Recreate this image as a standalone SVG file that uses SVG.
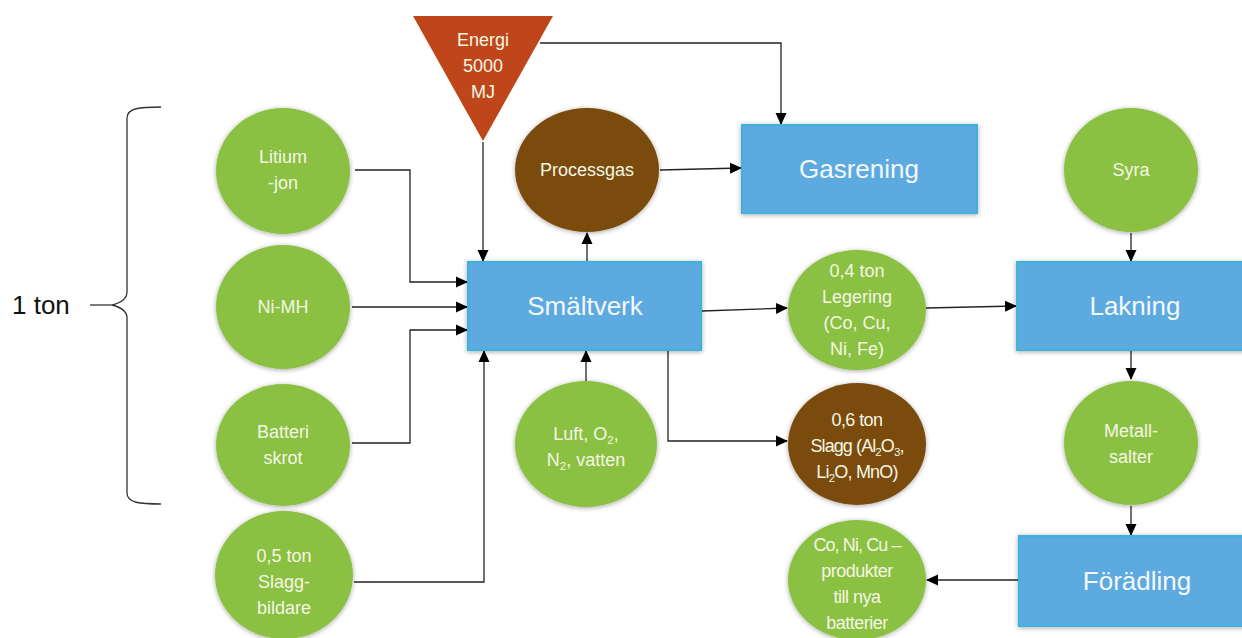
<svg xmlns="http://www.w3.org/2000/svg" width="1242" height="638" viewBox="0 0 1242 638">
<defs>
<filter id="sh" x="-20%" y="-20%" width="140%" height="140%">
<feGaussianBlur in="SourceAlpha" stdDeviation="2.5"/>
<feOffset dx="0" dy="1" result="b"/>
<feComponentTransfer><feFuncA type="linear" slope="0.35"/></feComponentTransfer>
<feMerge><feMergeNode/><feMergeNode in="SourceGraphic"/></feMerge>
</filter>
<marker id="ar" markerWidth="12" markerHeight="12" refX="11" refY="6" orient="auto" markerUnits="userSpaceOnUse">
<path d="M0,0.5 L12,6 L0,11.5 Z" fill="#000"/>
</marker>
</defs>
<style>
.g{fill:#8BC143;filter:url(#sh)}
.b{fill:#7A4B0A;filter:url(#sh)}
.box{fill:#5DAAE0;stroke:#3DB2DA;stroke-width:2;filter:url(#sh)}
.ct{font-family:"Liberation Sans",Arial,sans-serif;font-size:18px;fill:#F4F6E4;text-anchor:middle}
.bt{font-family:"Liberation Sans",Arial,sans-serif;font-size:26px;fill:#F4F8FA;text-anchor:middle}
.c{fill:none;stroke:#222;stroke-width:1.3}
.a{marker-end:url(#ar)}
.sub{font-size:11.5px}
</style>
<rect width="1242" height="638" fill="#fff"/>

<g id="brace">
<path d="M161,107 C140,107 127,108 127,118 L127,292 C127,300 120,303 112,305 C120,307 127,310 127,318 L127,493 C127,503 140,504 161,504" fill="none" stroke="#333" stroke-width="1.3"/>
<line x1="90" y1="305" x2="112" y2="305" stroke="#333" stroke-width="1.3"/>
<text x="12" y="314" font-family="&quot;Liberation Sans&quot;,Arial,sans-serif" font-size="26" fill="#111">1 ton</text>
</g>

<g id="connectors">
<path class="c a" d="M355,170 H410 V282 H467"/>
<path class="c a" d="M352,307 H467"/>
<path class="c a" d="M352,443 H410 V330 H467"/>
<path class="c a" d="M354,582 H484 V351"/>
<path class="c a" d="M483,142 V261"/>
<path class="c a" d="M540,43 H781 V124"/>
<path class="c a" d="M660,170 L741,168"/>
<path class="c a" d="M587,262 V233"/>
<path class="c a" d="M586,381 V351"/>
<path class="c a" d="M702,311 L787,308"/>
<path class="c a" d="M668,350 V441 H787"/>
<path class="c a" d="M926,308 L1016,306"/>
<path class="c a" d="M1131,233 V261"/>
<path class="c a" d="M1131,351 V379"/>
<path class="c a" d="M1131,506 V535"/>
<path class="c a" d="M1018,580 L927,580"/>
</g>

<g id="energi">
<polygon points="413,16 553,16 483,141" fill="#BF461A"/>
<text class="ct" x="483" y="46" font-size="19">Energi</text>
<text class="ct" x="483" y="72" font-size="19">5000</text>
<text class="ct" x="483" y="98" font-size="19">MJ</text>
</g>

<g id="litium">
<ellipse class="g" cx="283" cy="171" rx="67" ry="63"/>
<text class="ct" x="283" y="163">Litium</text>
<text class="ct" x="283" y="189">-jon</text>
</g>
<g id="nimh">
<ellipse class="g" cx="283" cy="307" rx="67" ry="62"/>
<text class="ct" x="283" y="313">Ni-MH</text>
</g>
<g id="batteri">
<ellipse class="g" cx="283" cy="445" rx="67" ry="61"/>
<text class="ct" x="283" y="438">Batteri</text>
<text class="ct" x="283" y="464">skrot</text>
</g>
<g id="slaggbildare">
<ellipse class="g" cx="284" cy="575" rx="69" ry="64"/>
<text class="ct" x="284" y="562">0,5 ton</text>
<text class="ct" x="284" y="588">Slagg-</text>
<text class="ct" x="284" y="614">bildare</text>
</g>

<g id="processgas">
<ellipse class="b" cx="587" cy="170" rx="72" ry="62"/>
<text class="ct" x="587" y="176">Processgas</text>
</g>
<g id="gasrening">
<rect class="box" x="742" y="125" width="235" height="88"/>
<text class="bt" x="859" y="178">Gasrening</text>
</g>
<g id="smaltverk">
<rect class="box" x="468" y="262" width="233" height="88"/>
<text class="bt" x="585" y="315">Smältverk</text>
</g>
<g id="luft">
<ellipse class="g" cx="586" cy="444" rx="71" ry="63"/>
<text class="ct" x="586" y="440">Luft, O<tspan class="sub" dy="4">2</tspan><tspan dy="-4">,</tspan></text>
<text class="ct" x="586" y="466">N<tspan class="sub" dy="4">2</tspan><tspan dy="-4">, vatten</tspan></text>
</g>
<g id="legering">
<ellipse class="g" cx="857" cy="310" rx="69" ry="60"/>
<text class="ct" x="857" y="277">0,4 ton</text>
<text class="ct" x="857" y="303">Legering</text>
<text class="ct" x="857" y="329">(Co, Cu,</text>
<text class="ct" x="857" y="355">Ni, Fe)</text>
</g>
<g id="slagg">
<ellipse class="b" cx="857" cy="444" rx="69" ry="61"/>
<text class="ct" x="857" y="426" letter-spacing="-0.6">0,6 ton</text>
<text class="ct" x="857" y="452" letter-spacing="-0.9">Slagg (Al<tspan class="sub" dy="4">2</tspan><tspan dy="-4">O</tspan><tspan class="sub" dy="4">3</tspan><tspan dy="-4">,</tspan></text>
<text class="ct" x="857" y="478" letter-spacing="-0.8">Li<tspan class="sub" dy="4">2</tspan><tspan dy="-4">O, MnO)</tspan></text>
</g>
<g id="syra">
<ellipse class="g" cx="1131" cy="170" rx="67" ry="62"/>
<text class="ct" x="1131" y="176">Syra</text>
</g>
<g id="lakning">
<rect class="box" x="1017" y="262" width="230" height="88"/>
<text class="bt" x="1135" y="315">Lakning</text>
</g>
<g id="metallsalter">
<ellipse class="g" cx="1131" cy="443" rx="67" ry="62"/>
<text class="ct" x="1131" y="437">Metall-</text>
<text class="ct" x="1131" y="463">salter</text>
</g>
<g id="foradling">
<rect class="box" x="1019" y="536" width="230" height="90"/>
<text class="bt" x="1137" y="590">Förädling</text>
</g>
<g id="produkter">
<ellipse class="g" cx="857" cy="580" rx="69" ry="60"/>
<text class="ct" x="857" y="551" letter-spacing="-0.9">Co, Ni, Cu –</text>
<text class="ct" x="857" y="577" letter-spacing="-0.5">produkter</text>
<text class="ct" x="857" y="603" letter-spacing="-0.5">till nya</text>
<text class="ct" x="857" y="629" letter-spacing="-0.5">batterier</text>
</g>
</svg>
